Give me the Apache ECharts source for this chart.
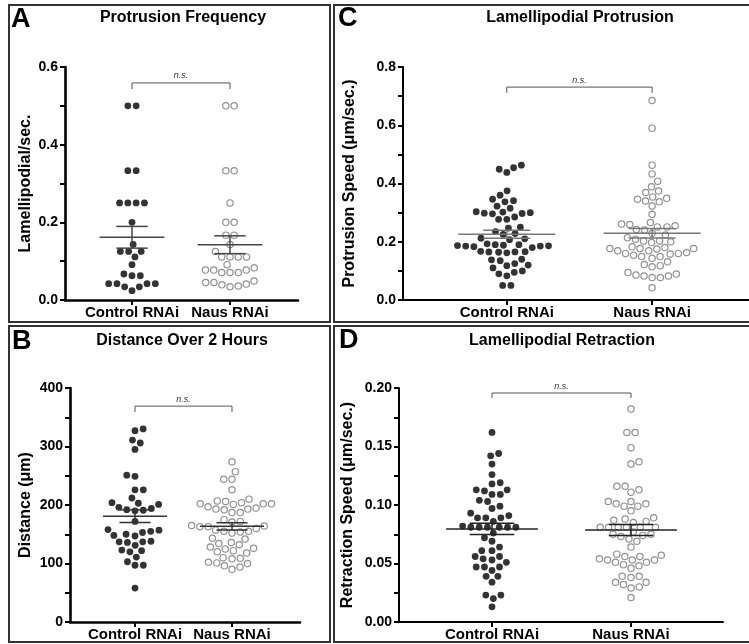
<!DOCTYPE html>
<html>
<head>
<meta charset="utf-8">
<script src="https://cdn.jsdelivr.net/npm/echarts@6/dist/echarts.min.js"></script>
<style>
html, body { margin: 0; padding: 0; background: #fff; }
#chart { width: 749px; height: 644px; }
</style>
</head>
<body>
<div id="chart"></div>
<script>
const groups = ['Control RNAi', 'Naus RNAi'];

// A - protrusion frequency
const freqControl = [0.5, 0.5, 0.333, 0.333, 0.25, 0.25, 0.25, 0.25, 0.2, 0.143, 0.125, 0.125, 0.125, 0.111, 0.091,
  0.067, 0.0625, 0.0625, 0.042, 0.042, 0.042, 0.042, 0.034, 0.034, 0.024];
const freqNaus = [0.5, 0.5, 0.333, 0.333, 0.25, 0.2, 0.2, 0.167, 0.167, 0.143, 0.125, 0.111, 0.111, 0.111, 0.111,
  0.091, 0.083, 0.077, 0.077, 0.077, 0.071, 0.071, 0.071, 0.049, 0.045, 0.045, 0.041, 0.039, 0.036, 0.034];
const freqTicks = [0, 0.2, 0.4, 0.6];

// B - distance over 2 hours
const distControl = [330, 327, 311, 306, 295, 251, 249, 226, 226, 212, 204, 203, 201, 196, 194, 192, 191, 190, 172,
  158, 157, 155, 153, 150, 148, 147, 138, 137, 137, 136, 131, 123, 122, 120, 111, 103, 97, 97, 58];
const distNaus = [274, 257, 244, 244, 226, 210, 207, 206, 204, 202, 202, 202, 201, 197, 195, 193, 193, 192, 187, 187,
  175, 172, 171, 165, 164, 163, 163, 160, 157, 155, 155, 154, 152, 143, 142, 136, 134, 132, 128, 126, 125, 122, 120,
  118, 110, 109, 108, 102, 101, 100, 96, 94, 90];
const distTicks = [0, 100, 200, 300, 400];

// C - lamellipodial protrusion speed
const protControl = [0.463, 0.454, 0.449, 0.438, 0.375, 0.36, 0.346, 0.341, 0.337, 0.322, 0.315, 0.303, 0.302, 0.30,
  0.298, 0.297, 0.296, 0.285, 0.277, 0.277, 0.25, 0.247, 0.235, 0.228, 0.225, 0.212, 0.21, 0.207, 0.193, 0.19, 0.19,
  0.188, 0.187, 0.186, 0.185, 0.185, 0.183, 0.18, 0.167, 0.166, 0.165, 0.165, 0.164, 0.162, 0.14, 0.138, 0.135,
  0.125, 0.12, 0.118, 0.11, 0.1, 0.095, 0.09, 0.083, 0.05, 0.05];
const protNaus = [0.685, 0.59, 0.463, 0.433, 0.408, 0.389, 0.374, 0.369, 0.354, 0.349, 0.346, 0.34, 0.337, 0.323,
  0.294, 0.266, 0.261, 0.259, 0.255, 0.251, 0.251, 0.242, 0.24, 0.229, 0.223, 0.214, 0.209, 0.203, 0.203, 0.2, 0.197,
  0.183, 0.18, 0.177, 0.177, 0.177, 0.175, 0.169, 0.169, 0.163, 0.16, 0.16, 0.158, 0.154, 0.149, 0.149, 0.143, 0.131,
  0.122, 0.118, 0.114, 0.094, 0.089, 0.086, 0.082, 0.082, 0.077, 0.077, 0.042];
const protTicks = [0, 0.2, 0.4, 0.6, 0.8];

// D - lamellipodial retraction speed
const retrControl = [0.162, 0.144, 0.142, 0.135, 0.126, 0.119, 0.118, 0.113, 0.113, 0.112, 0.109, 0.109, 0.104,
  0.103, 0.099, 0.097, 0.093, 0.091, 0.089, 0.089, 0.089, 0.086, 0.082, 0.081, 0.081, 0.081, 0.081, 0.081, 0.081,
  0.076, 0.072, 0.069, 0.064, 0.061, 0.061, 0.056, 0.056, 0.054, 0.053, 0.051, 0.047, 0.047, 0.047, 0.044, 0.039,
  0.039, 0.034, 0.023, 0.023, 0.02, 0.013];
const retrNaus = [0.182, 0.162, 0.162, 0.149, 0.137, 0.135, 0.116, 0.116, 0.113, 0.111, 0.103, 0.103, 0.101, 0.101,
  0.099, 0.099, 0.095, 0.089, 0.088, 0.087, 0.086, 0.085, 0.081, 0.081, 0.081, 0.081, 0.081, 0.081, 0.077, 0.075,
  0.075, 0.074, 0.073, 0.071, 0.069, 0.064, 0.058, 0.057, 0.056, 0.056, 0.054, 0.053, 0.053, 0.053, 0.051, 0.051,
  0.049, 0.048, 0.046, 0.039, 0.039, 0.038, 0.034, 0.034, 0.032, 0.03, 0.029, 0.021];
const retrTicks = [0, 0.05, 0.1, 0.15, 0.2];

const FONT = '"Liberation Sans", Arial, Helvetica, sans-serif';

const panels = [
  { letter: 'A', title: 'Protrusion Frequency', yName: 'Lamellipodial/sec.', sets: [freqControl, freqNaus],
    ticks: freqTicks, digits: 1, grid: { left: 65, top: 67, width: 233, height: 233 }, cats: [67, 165],
    nameGap: 31, axisW: 2.6, barColor: '#444', bracket: [0.559, 0.543],
    frame: [9, 5, 321, 317], letterAt: [11, 20], titleAt: [183, 18] },
  { letter: 'B', title: 'Distance Over 2 Hours', yName: 'Distance (μm)', sets: [distControl, distNaus],
    ticks: distTicks, digits: 0, grid: { left: 70, top: 388, width: 230, height: 234 }, cats: [65, 162],
    nameGap: 36, axisW: 2.6, barColor: '#333', bracket: [369, 359],
    frame: [9, 326, 321, 316], letterAt: [12, 342], titleAt: [182, 341] },
  { letter: 'C', title: 'Lamellipodial Protrusion', yName: 'Protrusion Speed (μm/sec.)', sets: [protControl, protNaus],
    ticks: protTicks, digits: 1, grid: { left: 403, top: 67, width: 350, height: 233 }, cats: [105, 252],
    nameGap: 45, axisW: 2, barColor: '#777', bracket: [0.731, 0.711],
    frame: [334, 5, 420, 317], letterAt: [338, 19], titleAt: [580, 18] },
  { letter: 'D', title: 'Lamellipodial Retraction', yName: 'Retraction Speed (μm/sec.)', sets: [retrControl, retrNaus],
    ticks: retrTicks, digits: 2, grid: { left: 399, top: 388, width: 324, height: 234 }, cats: [93, 232],
    nameGap: 43, axisW: 2, barColor: '#222', bracket: [0.1957, 0.1915],
    frame: [334, 326, 420, 316], letterAt: [339, 341], titleAt: [562, 341] }
];

const DOT = 8.3;

// beeswarm: horizontal offsets (px) so that dots of diameter d do not overlap
function swarm(values, pxPerUnit, d) {
  const order = values.map((v, i) => i).sort((a, b) => values[a] - values[b]);
  const xs = new Array(values.length);
  const placed = [];
  let flip = 1;
  order.forEach(i => {
    const y = values[i] * pxPerUnit;
    const blocks = [];
    placed.forEach(p => {
      const dy = Math.abs(p.y - y);
      if (dy < d) {
        const w = Math.sqrt(d * d - dy * dy);
        blocks.push([p.x - w, p.x + w]);
      }
    });
    const cands = [0];
    blocks.forEach(b => cands.push(b[0], b[1]));
    cands.sort((a, b) => (Math.abs(a) - Math.abs(b)) || (flip > 0 ? b - a : a - b));
    let x = 0;
    for (const c of cands) {
      if (blocks.every(b => c <= b[0] + 1e-6 || c >= b[1] - 1e-6)) { x = c; break; }
    }
    if (x !== 0) flip = x > 0 ? -1 : 1;
    xs[i] = x;
    placed.push({ i, x, y });
  });
  // centre rows of equal values when that does not create overlaps
  const sorted = placed.slice().sort((a, b) => a.y - b.y);
  let k = 0;
  while (k < sorted.length) {
    let j = k;
    while (j + 1 < sorted.length && sorted[j + 1].y - sorted[k].y < 0.5) j++;
    const row = sorted.slice(k, j + 1);
    if (row.length > 1) {
      const shift = -row.reduce((s, p) => s + p.x, 0) / row.length;
      const ok = row.every(p => placed.every(q => row.includes(q) ||
        Math.hypot(p.x + shift - q.x, p.y - q.y) >= d - 1e-6));
      if (ok) row.forEach(p => { p.x += shift; xs[p.i] = p.x; });
    }
    k = j + 1;
  }
  return xs;
}

function stats(arr) {
  const n = arr.length;
  const mean = arr.reduce((s, v) => s + v, 0) / n;
  const sd = Math.sqrt(arr.reduce((s, v) => s + (v - mean) * (v - mean), 0) / (n - 1));
  return [mean, sd / Math.sqrt(n)];
}

const grids = [], xAxes = [], yAxes = [], series = [], graphics = [];

panels.forEach((p, gi) => {
  const yMin = p.ticks[0], yMax = p.ticks[p.ticks.length - 1];
  const pxPerUnit = p.grid.height / (yMax - yMin);
  const spacing = p.cats[1] - p.cats[0];
  grids.push(Object.assign({ containLabel: false }, p.grid));

  xAxes.push({
    gridIndex: gi, type: 'value', min: 0, max: p.grid.width,
    axisLine: { show: true, onZero: false, lineStyle: { color: '#000', width: p.axisW } },
    axisTick: { show: true, customValues: p.cats, length: 5, lineStyle: { color: '#000', width: 2 } },
    axisLabel: {
      show: true, customValues: p.cats, margin: 5,
      formatter: v => (Math.abs(v - p.cats[0]) < 0.5 ? groups[0] : groups[1]),
      color: '#000', fontSize: 15, fontWeight: 'bold', fontFamily: FONT
    },
    splitLine: { show: false }
  });

  yAxes.push({
    gridIndex: gi, type: 'value', min: yMin, max: yMax, interval: p.ticks[1] - p.ticks[0],
    name: p.yName, nameLocation: 'middle', nameGap: p.nameGap,
    nameTextStyle: { color: '#000', fontSize: 16, fontWeight: 'bold', fontFamily: FONT },
    axisLine: { show: true, lineStyle: { color: '#000', width: p.axisW } },
    axisTick: { show: true, length: 5, lineStyle: { color: '#000', width: 2 } },
    minorTick: { show: true, splitNumber: 2, length: 5, lineStyle: { color: '#000', width: 2 } },
    axisLabel: {
      margin: 7, color: '#000', fontSize: 14, fontWeight: 'bold', fontFamily: FONT,
      formatter: v => v.toFixed(p.digits)
    },
    splitLine: { show: false }
  });

  p.sets.forEach((vals, si) => {
    const offs = swarm(vals, pxPerUnit, DOT);
    series.push({
      type: 'scatter', xAxisIndex: gi, yAxisIndex: gi, silent: true, z: 2,
      symbol: 'circle', symbolSize: si === 0 ? 6.8 : 6.3,
      itemStyle: si === 0
        ? { color: '#000' }
        : { color: '#fff', borderColor: '#777', borderWidth: 1.2 },
      data: vals.map((v, k) => [p.cats[si] + offs[k], v])
    });
  });

  const meanHalf = 0.33 * spacing, capHalf = 0.16 * spacing;
  series.push({
    type: 'custom', xAxisIndex: gi, yAxisIndex: gi, silent: true, z: 4,
    data: p.sets.map((vals, si) => [p.cats[si]].concat(stats(vals))),
    renderItem: (params, api) => {
      const cx = api.value(0), m = api.value(1), s = api.value(2);
      const pm = api.coord([cx, m]), pt = api.coord([cx, m + s]), pb = api.coord([cx, m - s]);
      const style = { stroke: p.barColor, lineWidth: 1.5, fill: null };
      return {
        type: 'group', children: [
          { type: 'line', shape: { x1: pm[0] - meanHalf, y1: pm[1], x2: pm[0] + meanHalf, y2: pm[1] }, style },
          { type: 'line', shape: { x1: pt[0], y1: pt[1], x2: pb[0], y2: pb[1] }, style },
          { type: 'line', shape: { x1: pt[0] - capHalf, y1: pt[1], x2: pt[0] + capHalf, y2: pt[1] }, style },
          { type: 'line', shape: { x1: pb[0] - capHalf, y1: pb[1], x2: pb[0] + capHalf, y2: pb[1] }, style }
        ]
      };
    }
  });

  // n.s. bracket
  series.push({
    type: 'line', xAxisIndex: gi, yAxisIndex: gi, silent: true, symbol: 'none', z: 3,
    lineStyle: { color: '#555', width: 1 },
    data: [[p.cats[0], p.bracket[1]], [p.cats[0], p.bracket[0]], [p.cats[1], p.bracket[0]], [p.cats[1], p.bracket[1]]]
  });

  const f = p.frame;
  graphics.push({
    type: 'rect', silent: true, z: 10,
    shape: { x: f[0], y: f[1], width: f[2], height: f[3] },
    style: { fill: null, stroke: '#333', lineWidth: 2 }
  });
  graphics.push({
    type: 'text', silent: true, z: 10,
    style: { x: p.letterAt[0], y: p.letterAt[1], text: p.letter, fill: '#000',
      font: 'bold 27px ' + FONT, align: 'left', verticalAlign: 'middle',
      textAlign: 'left', textVerticalAlign: 'middle' }
  });
  graphics.push({
    type: 'text', silent: true, z: 10,
    style: { x: p.titleAt[0], y: p.titleAt[1], text: p.title, fill: '#000',
      font: 'bold 16px ' + FONT, align: 'center', verticalAlign: 'middle',
      textAlign: 'center', textVerticalAlign: 'middle' }
  });
});

const chart = echarts.init(document.getElementById('chart'), null, { renderer: 'canvas' });
chart.setOption({
  animation: false,
  backgroundColor: '#fff',
  grid: grids,
  xAxis: xAxes,
  yAxis: yAxes,
  series: series,
  graphic: graphics
});

// "n.s." labels above each bracket
const nsLabels = panels.map((p, gi) => {
  const pt = chart.convertToPixel({ gridIndex: gi }, [(p.cats[0] + p.cats[1]) / 2, p.bracket[0]]);
  return {
    type: 'text', silent: true, z: 10,
    style: { x: pt[0], y: pt[1] - 7, text: 'n.s.', fill: '#333',
      font: 'italic 9px ' + FONT, align: 'center', verticalAlign: 'middle',
      textAlign: 'center', textVerticalAlign: 'middle' }
  };
});
chart.setOption({ graphic: graphics.concat(nsLabels) });
</script>
</body>
</html>
